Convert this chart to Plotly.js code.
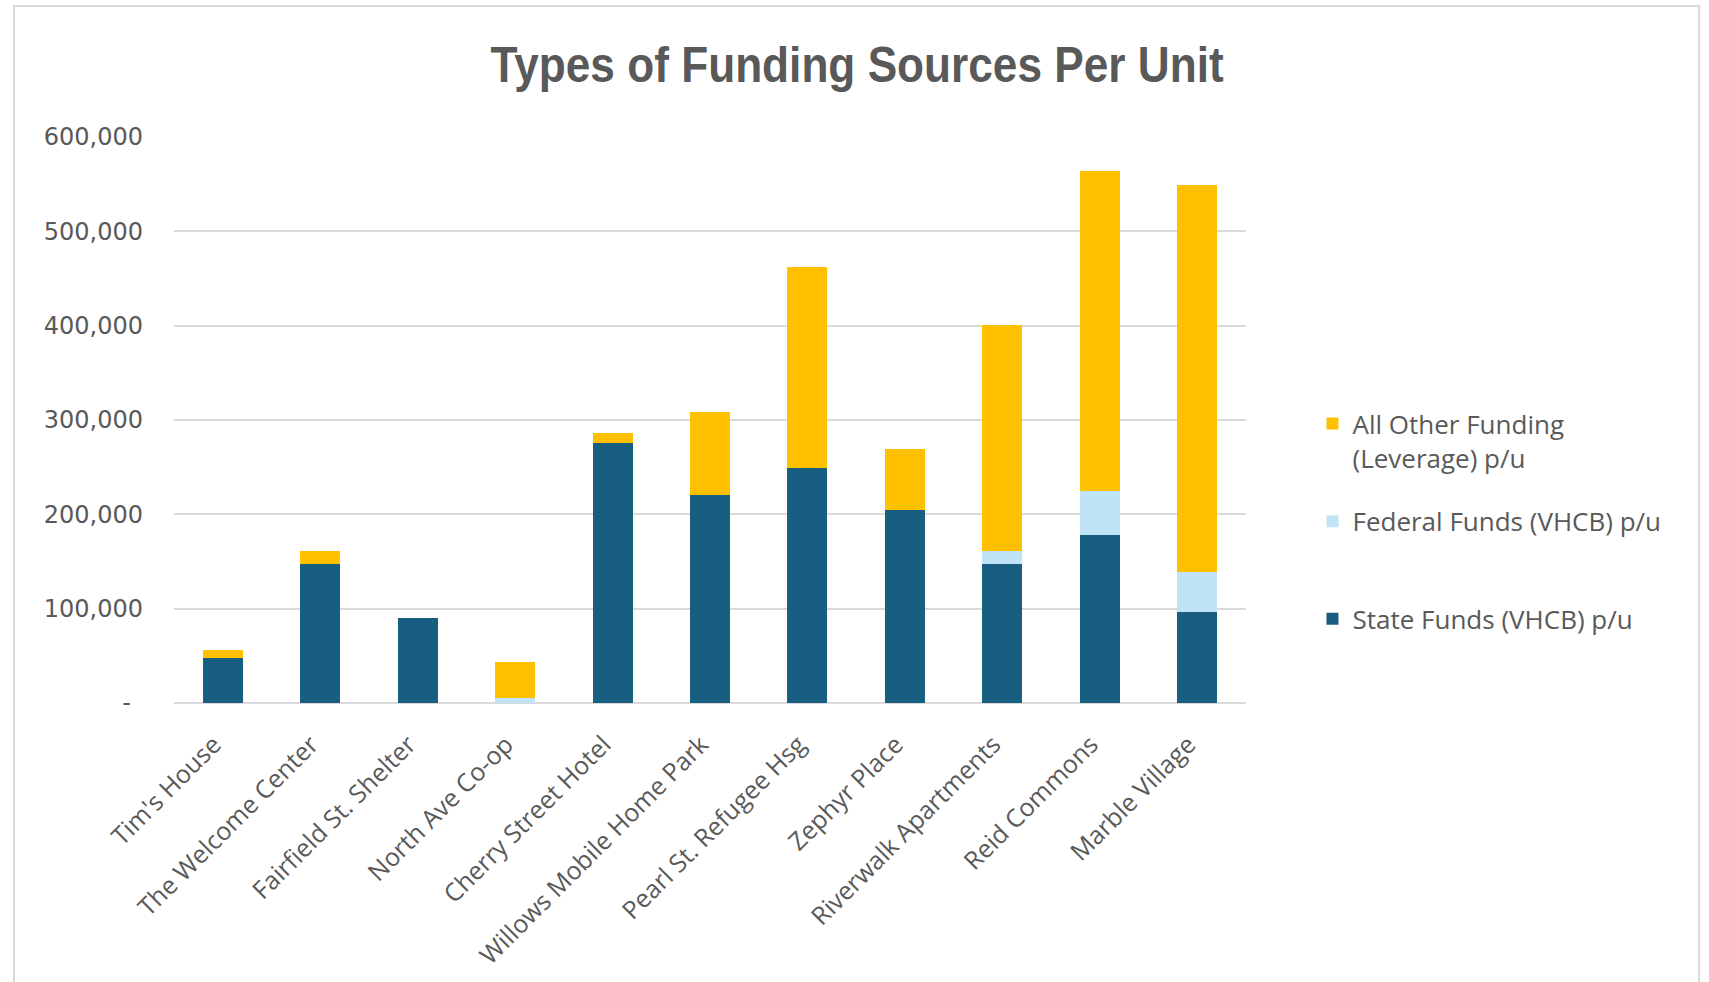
<!DOCTYPE html>
<html>
<head>
<meta charset="utf-8">
<script src="https://cdn.plot.ly/plotly-3.0.1.min.js"></script>
<style>
  html, body { margin: 0; padding: 0; background: #ffffff; overflow: hidden; }
  #chart { width: 1709px; height: 982px; }
</style>
</head>
<body>
<div id="chart"></div>
<script>
const categories = ["Tim's House", "The Welcome Center", "Fairfield St. Shelter", "North Ave Co-op",
  "Cherry Street Hotel", "Willows Mobile Home Park", "Pearl St. Refugee Hsg", "Zephyr Place",
  "Riverwalk Apartments", "Reid Commons", "Marble Village"];
const stateFunds = [47400, 147300, 89800, 0, 276000, 220200, 248700, 205100, 147200, 177600, 96700];
const federalFunds = [0, 0, 0, 5000, 0, 0, 0, 0, 13500, 47500, 42000];
const otherFunding = [8400, 13400, 0, 38800, 10000, 88000, 213500, 64000, 240000, 339000, 410500];
const seriesNames = ["State Funds (VHCB) p/u", "Federal Funds (VHCB) p/u", "All Other Funding<br>(Leverage) p/u"];
const yTickVals = [0, 100000, 200000, 300000, 400000, 500000, 600000];
const yTickText = ["-\u2002", "100,000", "200,000", "300,000", "400,000", "500,000", "600,000"];

const colors = ["#175E81", "#C0E4F5", "#FFC000"];
const values = [stateFunds, federalFunds, otherFunding];
const legendNames = [seriesNames[0] + "<br>\u00a0", seriesNames[1] + "<br>\u00a0", seriesNames[2]];

const traces = values.map((v, i) => ({
  type: 'bar',
  x: categories,
  y: v,
  name: legendNames[i],
  legendgroup: 'g' + i,
  legendrank: 1000 - i,
  marker: { color: colors[i], line: { width: 0 } },
  hoverinfo: 'x+y+name'
}));

const layout = {
  width: 1709,
  height: 982,
  paper_bgcolor: '#ffffff',
  plot_bgcolor: '#ffffff',
  barmode: 'stack',
  bargap: 0.59,
  margin: { l: 174, r: 463, t: 137, b: 279 },
  title: {
    text: '<b>Types of Funding Sources Per Unit</b>',
    font: { family: 'Liberation Sans, Arial, sans-serif', size: 50, color: '#595959' },
    x: 0.5015, xref: 'container', xanchor: 'center',
    y: 0.934, yref: 'container', yanchor: 'middle'
  },
  xaxis: {
    type: 'category',
    tickangle: -45,
    tickfont: { family: 'Open Sans, sans-serif', size: 25, color: '#595959' },
    showgrid: false,
    showline: false,
    ticks: '',
    ticklabelstandoff: 21,
    ticklabelshift: -9,
    zeroline: false,
    fixedrange: true
  },
  yaxis: {
    range: [0, 600000],
    tickvals: yTickVals,
    ticktext: yTickText,
    tickfont: { family: 'DejaVu Sans, sans-serif', size: 24, color: '#595959' },
    showgrid: true,
    gridcolor: '#d9d9d9',
    gridwidth: 2,
    zeroline: true,
    zerolinecolor: '#d9d9d9',
    zerolinewidth: 2,
    showline: false,
    ticks: '',
    ticklabelstandoff: 30,
    fixedrange: true
  },
  legend: {
    x: 1.062, xanchor: 'left',
    y: 0.535, yanchor: 'top',
    font: { family: 'Open Sans, sans-serif', size: 26, color: '#595959' },
    valign: 'top',
    traceorder: 'grouped',
    tracegroupgap: 27,
    bgcolor: 'rgba(0,0,0,0)'
  },
  shapes: [{
    type: 'rect', xref: 'paper', yref: 'paper', layer: 'below',
    x0: -0.1493, x1: 1.4226, y0: -0.7, y1: 1.2314,
    line: { color: '#d9d9d9', width: 2 }, fillcolor: 'rgba(0,0,0,0)'
  }],
  showlegend: true
};

Plotly.newPlot('chart', traces, layout, { displayModeBar: false, staticPlot: true }).then(gd => {
  const t = gd.querySelector('.gtitle');
  if (t) {
    const bb = t.getBBox();
    const cx = bb.x + bb.width / 2;
    t.setAttribute('transform', 'translate(' + cx + ',0) scale(0.884,1) translate(' + (-cx) + ',0)');
  }
});
</script>
</body>
</html>
